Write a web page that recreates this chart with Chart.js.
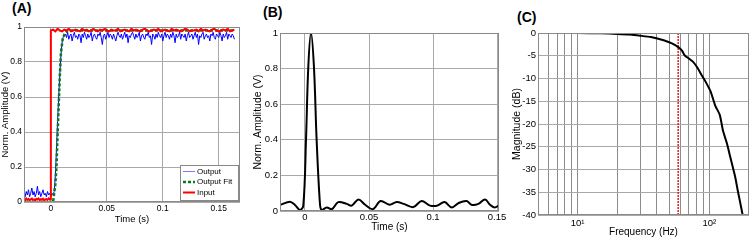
<!DOCTYPE html>
<html><head><meta charset="utf-8">
<script src="https://cdn.jsdelivr.net/npm/chart.js@4.4.1/dist/chart.umd.min.js"></script>
<style>
body{margin:0;background:#fff;width:750px;height:240px;overflow:hidden;position:relative;font-family:"Liberation Sans",Arial,sans-serif}
canvas{position:absolute;top:0}
.ttl{position:absolute;font:bold 14px/16px "Liberation Sans",Arial,sans-serif;color:#000;white-space:nowrap}
</style></head><body>
<div class="ttl" style="left:12px;top:0px">(A)</div>
<div class="ttl" style="left:263px;top:4px">(B)</div>
<div class="ttl" style="left:517px;top:9px">(C)</div>
<canvas id="cA" width="250" height="240" style="left:0;width:250px;height:240px"></canvas>
<canvas id="cB" width="260" height="240" style="left:250px;width:260px;height:240px"></canvas>
<canvas id="cC" width="250" height="240" style="left:500px;width:250px;height:240px"></canvas>
<script>
// ---------------- Panel A data ----------------
const seriesNamesA = ['Output', 'Output Fit', 'Input'];
// Output (measured), sampled every 1 ms
const outPreStart = -0.024, outStep = 0.001;
const outPreValues = [0.05,0.03,0.06,0.04,0.07,0.03,0.05,0.08,0.04,0.06,0.03,0.05,0.09,0.04,0.06,0.03,0.05,0.07,0.04,0.05,0.03,0.06,0.04,0.05,0.03,0.05,0.04];
const outRiseTimes = [0.003,0.004,0.005,0.006,0.007,0.008,0.009,0.010,0.011,0.012];
const outRiseValues = [0.06,0.15,0.3,0.46,0.6,0.73,0.84,0.91,0.94,0.95];
const outPostStart = 0.013;
const outPostValues = [
0.96,0.94,0.97,0.93,0.95,0.96,0.92,0.95,0.97,0.94,
0.95,0.93,0.96,0.95,0.91,0.96,0.94,0.97,0.95,0.93,
0.96,0.94,0.95,0.97,0.92,0.95,0.96,0.94,0.93,0.96,
0.95,0.97,0.94,0.90,0.95,0.96,0.93,0.95,0.97,0.94,
0.96,0.95,0.93,0.96,0.94,0.92,0.95,0.97,0.95,0.94,
0.96,0.93,0.95,0.97,0.94,0.96,0.91,0.95,0.94,0.96,
0.97,0.95,0.93,0.96,0.94,0.95,0.97,0.92,0.95,0.96,
0.94,0.93,0.96,0.95,0.97,0.94,0.95,0.90,0.96,0.95,
0.93,0.96,0.94,0.97,0.95,0.94,0.96,0.92,0.95,0.97,
0.94,0.96,0.95,0.93,0.96,0.94,0.97,0.95,0.91,0.96,
0.94,0.95,0.97,0.93,0.96,0.95,0.94,0.96,0.92,0.95,
0.97,0.94,0.95,0.96,0.93,0.95,0.97,0.94,0.96,0.90,
0.95,0.94,0.96,0.97,0.93,0.95,0.96,0.94,0.95,0.92,
0.96,0.95,0.97,0.94,0.93,0.96,0.95,0.94,0.97,0.95,
0.92,0.96,0.94,0.95,0.97,0.93,0.96,0.95,0.94,0.96,
0.95,0.93];
// Output fit
const fitTimes = [-0.024,0.002,0.004,0.005,0.006,0.007,0.008,0.009,0.0105,0.0125,0.015,0.164];
const fitValues = [0,0,0.1,0.2,0.38,0.55,0.72,0.85,0.93,0.965,0.98,0.98];
// Input step
const inPreStart = -0.024, inPreStep = 0.001;
const inPreValues = [0.015,0.01,0.02,0.012,0.018,0.01,0.016,0.02,0.012,0.015,0.01,0.018,0.014,0.02,0.011,0.016,0.013,0.019,0.01,0.015,0.017,0.012,0.02,0.014,0.015];
const inPostStart = 0, inPostStep = 0.002;
const inPostValues = [
0.98,0.985,0.975,0.99,0.98,0.975,0.985,0.98,0.99,0.975,
0.98,0.985,0.98,0.975,0.99,0.98,0.985,0.975,0.98,0.99,
0.98,0.975,0.985,0.98,0.99,0.98,0.975,0.985,0.98,0.98,
0.99,0.975,0.98,0.985,0.98,0.975,0.99,0.98,0.985,0.98,
0.975,0.985,0.99,0.98,0.975,0.98,0.985,0.98,0.99,0.975,
0.98,0.985,0.98,0.975,0.99,0.98,0.985,0.98,0.975,0.98,
0.99,0.985,0.975,0.98,0.98,0.985,0.975,0.99,0.98,0.985,
0.98,0.975,0.985,0.99,0.98,0.975,0.98,0.985,0.98,0.99,
0.975,0.98,0.985];

// ---------------- Panel B data ----------------
const bTimes = [-0.0195,-0.0117,-0.0078,-0.004,-0.0013,0.0008,0.0026,0.0047,0.007,0.0091,0.0117,0.013,0.017,0.021,0.026,0.0326,0.0365,0.0417,0.047,0.053,0.059,0.066,0.0716,0.077,0.0846,0.091,0.0977,0.103,0.109,0.1146,0.12,0.1263,0.13,0.1354,0.1406,0.1445,0.148,0.1515];
const bValues = [0.034,0.052,0.034,0.006,0.03,0.4,0.81,1.0,0.81,0.4,0.04,0.006,0.02,0.01,0.05,0.04,0.03,0.065,0.035,0.01,0.056,0.035,0.05,0.04,0.022,0.056,0.03,0.03,0.05,0.02,0.045,0.056,0.035,0.04,0.065,0.035,0.02,0.03];

// ---------------- Panel C data ----------------
const cFreqs = [5,10,15,20,25,30,36,45,52,58,62,65,69,75,81,88,94,102,111,120,127,136,144,157,164,174,179];
const cMagDb = [0,-0.02,-0.08,-0.2,-0.35,-0.6,-0.9,-1.6,-2.3,-3.1,-3.9,-4.9,-5.5,-6.3,-7.6,-9.4,-10.8,-12.8,-16,-18,-21.5,-24.3,-27.2,-31.6,-34.5,-38.2,-40];
const cCutoffHz = 58;
const cCutoffRange = [0, -40];
const cGridFreqs = [6,7,8,9,10,20,30,40,50,60,70,80,90,100];

// ---------------- helpers ----------------
const FONT = '"Liberation Sans", Arial, sans-serif';
const GRID = '#a9a9a9';
const FRAME = '#8a8a8a';
const tickFont = {family: FONT, size: 9.5};
const tickFontA = {family: FONT, size: 8.5};
const fmt = v => String(Math.round(v * 1000) / 1000);

function pts(times, values) { return values.map((v, i) => ({x: times[i], y: v})); }
function sampled(start, step, values) { return values.map((v, i) => ({x: +(start + i * step).toFixed(4), y: v})); }

const framePlugin = {
  id: 'frame',
  afterDatasetsDraw(chart) {
    const a = chart.chartArea, ctx = chart.ctx;
    ctx.save(); ctx.strokeStyle = FRAME; ctx.lineWidth = 1;
    ctx.strokeRect(Math.round(a.left) + 0.5, Math.round(a.top) + 0.5, Math.round(a.right - a.left) - 1, Math.round(a.bottom - a.top) - 1);
    ctx.restore();
  }
};

const legendA = {
  id: 'legendA',
  afterDraw(chart) {
    const a = chart.chartArea, ctx = chart.ctx;
    const w = 58, h = 35;
    const x = Math.round(a.right - 2 - w), y = Math.round(a.bottom - 2 - h);
    ctx.save();
    ctx.fillStyle = '#fff'; ctx.fillRect(x, y, w, h);
    ctx.strokeStyle = '#888'; ctx.lineWidth = 1; ctx.strokeRect(x + 0.5, y + 0.5, w, h);
    ctx.font = '8px ' + FONT; ctx.textBaseline = 'middle'; ctx.fillStyle = '#000';
    chart.data.datasets.forEach((ds, i) => {
      const yy = y + 6.5 + i * 10.5;
      ctx.beginPath();
      ctx.strokeStyle = ds.legendColor;
      ctx.lineWidth = ds.legendWidth;
      ctx.setLineDash(ds.borderDash || []);
      ctx.moveTo(x + 3, yy); ctx.lineTo(x + 15, yy); ctx.stroke();
      ctx.setLineDash([]);
      ctx.fillText(ds.label, x + 17, yy);
    });
    ctx.restore();
  }
};

function yAxis(min, max, step, title, width, titleSize, titlePad, tickPad, tf) {
  return {
    min, max,
    border: {display: false},
    grid: {color: GRID, drawTicks: false},
    ticks: {stepSize: step, font: tf || tickFont, color: '#000', padding: tickPad, callback: fmt},
    title: {display: true, text: title, color: '#000', font: {family: FONT, size: titleSize, lineHeight: 1}, padding: {top: titlePad, bottom: 0}},
    afterFit: s => { s.width = width; }
  };
}
function xAxisLinear(min, max, step, title, height, tickPad, titlePadBottom, tf, titleSize) {
  return {
    type: 'linear', min, max,
    border: {display: false},
    grid: {color: GRID, drawTicks: false},
    ticks: {stepSize: step, includeBounds: false, font: tf || tickFont, color: '#000', padding: tickPad, maxRotation: 0, callback: fmt},
    title: {display: true, text: title, color: '#000', font: {family: FONT, size: titleSize || 10}, padding: {top: 0, bottom: titlePadBottom}},
    afterFit: s => { s.height = height; }
  };
}

Chart.defaults.animation = false;
Chart.defaults.responsive = false;
Chart.defaults.font.family = FONT;

// ---------------- Chart A ----------------
new Chart(document.getElementById('cA'), {
  type: 'line',
  data: {
    datasets: [
      {label: seriesNamesA[0], data: sampled(outPreStart, outStep, outPreValues).concat(pts(outRiseTimes, outRiseValues), sampled(outPostStart, outStep, outPostValues)),
       borderColor: '#0000ff', legendColor: '#7a7aff', borderWidth: 1, legendWidth: 1, pointRadius: 0, tension: 0, order: 3},
      {label: seriesNamesA[1], data: pts(fitTimes, fitValues),
       borderColor: '#0b7a1b', legendColor: '#0b7a1b', borderWidth: 2.5, legendWidth: 2.5, borderDash: [3, 2], pointRadius: 0, tension: 0, order: 2},
      {label: seriesNamesA[2], data: sampled(inPreStart, inPreStep, inPreValues).concat(sampled(inPostStart, inPostStep, inPostValues)),
       borderColor: '#ff0000', legendColor: '#ff0000', borderWidth: 2, legendWidth: 2, pointRadius: 0, tension: 0, order: 1}
    ]
  },
  options: {
    parsing: false,
    layout: {padding: {top: 27, right: 10, bottom: 14, left: 0}},
    plugins: {legend: {display: false}, tooltip: {enabled: false}},
    scales: {
      x: xAxisLinear(-0.024, 0.169, 0.05, 'Time (s)', 24, 2, 1, tickFontA, 9.5),
      y: yAxis(0, 1, 0.2, 'Norm. Amplitude (V)', 24, 9.5, 0.5, 2, tickFontA)
    }
  },
  plugins: [framePlugin, legendA]
});

// ---------------- Chart B ----------------
new Chart(document.getElementById('cB'), {
  type: 'line',
  data: {datasets: [{label: 'B', data: pts(bTimes, bValues), borderColor: '#000', borderWidth: 2, pointRadius: 0, tension: 0.35}]},
  options: {
    parsing: false,
    layout: {padding: {top: 33, right: 11, bottom: 5, left: 0}},
    plugins: {legend: {display: false}, tooltip: {enabled: false}},
    scales: {
      x: xAxisLinear(-0.0195, 0.1515, 0.05, 'Time (s)', 24, 1, 2),
      y: yAxis(0, 1, 0.2, 'Norm. Amplitude (V)', 30, 10.5, 3, 2)
    }
  },
  plugins: [framePlugin]
});

// ---------------- Chart C ----------------
new Chart(document.getElementById('cC'), {
  type: 'line',
  data: {datasets: [
    {label: 'Magnitude', data: pts(cFreqs, cMagDb), borderColor: '#000', borderWidth: 2, pointRadius: 0, tension: 0.2, order: 1},
    {label: 'Cutoff', data: cCutoffRange.map(v => ({x: cCutoffHz, y: v})), borderColor: '#e0202a', borderWidth: 1.5, borderDash: [2, 1], pointRadius: 0, order: 2}
  ]},
  options: {
    parsing: false,
    layout: {padding: {top: 33, right: 1, bottom: 2, left: 0}},
    plugins: {legend: {display: false}, tooltip: {enabled: false}},
    scales: {
      x: {
        type: 'logarithmic', min: 5, max: 200,
        border: {display: false},
        grid: {color: '#8c8c8c', drawTicks: false},
        afterBuildTicks: s => { s.ticks = cGridFreqs.map(v => ({value: v})); },
        ticks: {autoSkip: false, maxRotation: 0, font: tickFont, color: '#000', padding: 3,
                callback: v => v === 10 ? '10¹' : (v === 100 ? '10²' : '')},
        title: {display: true, text: 'Frequency (Hz)', color: '#000', font: {family: FONT, size: 10}, padding: {top: 0, bottom: 0}},
        afterFit: s => { s.height = 23; }
      },
      y: yAxis(-40, 0, 5, 'Magnitude (dB)', 38, 10.5, 11.5, 2)
    }
  },
  plugins: [framePlugin]
});
</script>
</body></html>
